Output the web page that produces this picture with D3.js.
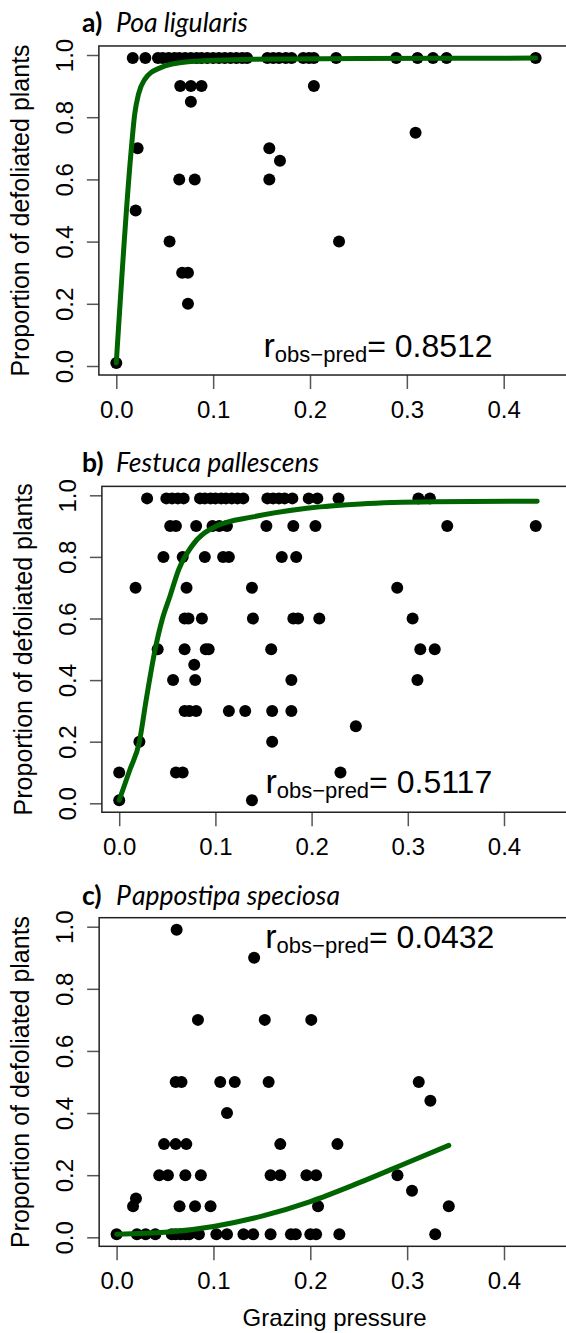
<!DOCTYPE html>
<html>
<head>
<meta charset="utf-8">
<script src="https://cdn.jsdelivr.net/npm/d3@7"></script>
<style>
  body { margin: 0; background: #fff; }
  svg { display: block; background: #fff; }
</style>
</head>
<body>
<div id="chart"></div>
<script>
// tick values and labels
var xTicks = [0, 0.1, 0.2, 0.3, 0.4];
var yTicks = [0, 0.2, 0.4, 0.6, 0.8, 1.0];
var panelLetters = ["a)", "b)", "c)"];
var speciesNames = ["Poa ligularis", "Festuca pallescens", "Pappostipa speciosa"];
var rValues = ["0.8512", "0.5117", "0.0432"];
var yTitle = "Proportion of defoliated plants";
var xTitle = "Grazing pressure";

// a) Poa ligularis - [grazing pressure, proportion defoliated]
var poaPoints = [
  [0.017, 0.99], [0.030, 0.99], [0.043, 0.99], [0.048, 0.99], [0.054, 0.99], [0.060, 0.99],
  [0.065, 0.99], [0.071, 0.99], [0.077, 0.99], [0.083, 0.99], [0.088, 0.99], [0.094, 0.99],
  [0.100, 0.99], [0.106, 0.99], [0.112, 0.99], [0.118, 0.99], [0.124, 0.99], [0.130, 0.99],
  [0.135, 0.99], [0.156, 0.99], [0.162, 0.99], [0.168, 0.99], [0.175, 0.99], [0.181, 0.99],
  [0.193, 0.99], [0.199, 0.99], [0.204, 0.99], [0.227, 0.99], [0.289, 0.99], [0.311, 0.99],
  [0.327, 0.99], [0.341, 0.99], [0.433, 0.99],
  [0.066, 0.90], [0.077, 0.90], [0.088, 0.90], [0.204, 0.90],
  [0.077, 0.85], [0.309, 0.75],
  [0.022, 0.70], [0.158, 0.70], [0.169, 0.66],
  [0.065, 0.60], [0.081, 0.60], [0.158, 0.60],
  [0.020, 0.50], [0.055, 0.40], [0.230, 0.40],
  [0.068, 0.30], [0.074, 0.30], [0.074, 0.20],
  [0.000, 0.01]
];
var poaFit = [
  [0, 0.01], [0.015, 0.68], [0.019, 0.81], [0.023, 0.875], [0.029, 0.92], [0.044, 0.957],
  [0.074, 0.978], [0.141, 0.986], [0.25, 0.989], [0.433, 0.99]
];

// b) Festuca pallescens
var festPoints = [
  [0.029, 0.99], [0.049, 0.99], [0.055, 0.99], [0.061, 0.99], [0.067, 0.99], [0.084, 0.99],
  [0.089, 0.99], [0.095, 0.99], [0.100, 0.99], [0.106, 0.99], [0.111, 0.99], [0.117, 0.99],
  [0.123, 0.99], [0.129, 0.99], [0.154, 0.99], [0.160, 0.99], [0.166, 0.99], [0.172, 0.99],
  [0.180, 0.99], [0.197, 0.99], [0.206, 0.99], [0.228, 0.99], [0.311, 0.99], [0.323, 0.99],
  [0.053, 0.90], [0.059, 0.90], [0.080, 0.90], [0.097, 0.90], [0.104, 0.90], [0.112, 0.90],
  [0.153, 0.90], [0.181, 0.90], [0.204, 0.90], [0.341, 0.90], [0.433, 0.90],
  [0.046, 0.80], [0.066, 0.80], [0.089, 0.80], [0.108, 0.80], [0.114, 0.80], [0.169, 0.80],
  [0.184, 0.80],
  [0.017, 0.70], [0.070, 0.70], [0.138, 0.70], [0.289, 0.70],
  [0.068, 0.60], [0.072, 0.60], [0.086, 0.60], [0.139, 0.60], [0.181, 0.60], [0.186, 0.60],
  [0.208, 0.60], [0.305, 0.60],
  [0.040, 0.50], [0.068, 0.50], [0.090, 0.50], [0.093, 0.50], [0.158, 0.50], [0.313, 0.50],
  [0.328, 0.50],
  [0.078, 0.45],
  [0.056, 0.40], [0.079, 0.40], [0.179, 0.40], [0.310, 0.40],
  [0.068, 0.30], [0.073, 0.30], [0.080, 0.30], [0.114, 0.30], [0.131, 0.30], [0.159, 0.30],
  [0.179, 0.30],
  [0.246, 0.25], [0.021, 0.20], [0.159, 0.20],
  [0.000, 0.10], [0.059, 0.10], [0.066, 0.10], [0.230, 0.10],
  [0.000, 0.01], [0.138, 0.01]
];
var festFit = [
  [0, 0.01], [0.011, 0.108], [0.021, 0.20], [0.028, 0.335], [0.0374, 0.50], [0.045, 0.60],
  [0.0525, 0.67], [0.062, 0.76], [0.075, 0.833], [0.101, 0.90], [0.139, 0.93],
  [0.195, 0.958], [0.251, 0.972], [0.326, 0.979], [0.4345, 0.981]
];

// c) Pappostipa speciosa
var papPoints = [
  [0.062, 0.99], [0.142, 0.90],
  [0.084, 0.70], [0.153, 0.70], [0.201, 0.70],
  [0.061, 0.50], [0.067, 0.50], [0.107, 0.50], [0.122, 0.50], [0.157, 0.50], [0.312, 0.50],
  [0.324, 0.44], [0.114, 0.40],
  [0.049, 0.30], [0.061, 0.30], [0.072, 0.30], [0.169, 0.30], [0.228, 0.30],
  [0.044, 0.20], [0.053, 0.20], [0.071, 0.20], [0.087, 0.20], [0.159, 0.20], [0.169, 0.20],
  [0.196, 0.20], [0.206, 0.20], [0.290, 0.20],
  [0.305, 0.15], [0.020, 0.125],
  [0.017, 0.10], [0.065, 0.10], [0.081, 0.10], [0.097, 0.10], [0.208, 0.10], [0.343, 0.10],
  [0.000, 0.01], [0.021, 0.01], [0.030, 0.01], [0.040, 0.01], [0.057, 0.01], [0.061, 0.01],
  [0.066, 0.01], [0.071, 0.01], [0.075, 0.01], [0.085, 0.01], [0.103, 0.01], [0.114, 0.01],
  [0.131, 0.01], [0.141, 0.01], [0.159, 0.01], [0.180, 0.01], [0.185, 0.01], [0.200, 0.01],
  [0.206, 0.01], [0.230, 0.01], [0.329, 0.01]
];
var papFit = [
  [0, 0.01], [0.05, 0.016], [0.10, 0.035], [0.15, 0.068], [0.20, 0.115], [0.25, 0.175],
  [0.30, 0.24], [0.343, 0.296]
];

var allPoints = [poaPoints, festPoints, papPoints];
var allFits = [poaFit, festFit, papFit];

// plot limits in data units (R style padding)
var xLim = [-0.018, 0.468];
var yLim = [-0.029, 1.029];

// pixel placement of each panel (pixel of x=0, x=0.4, y=0, y=1), title baseline, r label spot
var layout = [
  {x0: 116.3, x4: 503.7, y0: 366, y1: 55, titleY: 32, rAt: [0.152, 0.03]},
  {x0: 119.2, x4: 504, y0: 803.3, y1: 495.3, titleY: 472, rAt: [0.152, 0.032]},
  {x0: 116.6, x4: 504, y0: 1237.3, y1: 926.7, titleY: 905, rAt: [0.1535, 0.93]}
];

var axisFont = "'Liberation Sans', Arial, sans-serif";
var titleFont = "Lato, 'Open Sans', sans-serif";
var green = "#006400";

var svg = d3.select("#chart")
  .append("svg")
  .attr("width", 566)
  .attr("height", 1333);

layout.forEach(function (p, i) {
  var x = d3.scaleLinear().domain([0, 0.4]).range([p.x0, p.x4]);
  var y = d3.scaleLinear().domain([0, 1]).range([p.y0, p.y1]);
  var boxLeft = x(xLim[0]), boxRight = x(xLim[1]);
  var boxTop = y(yLim[1]), boxBottom = y(yLim[0]);

  var g = svg.append("g");

  // y axis with labels turned parallel to axis
  g.append("g")
    .attr("transform", "translate(" + boxLeft + ",0)")
    .call(d3.axisLeft(y).tickValues(yTicks).tickFormat(d3.format(".1f")).tickSize(12).tickSizeOuter(0))
    .attr("font-family", axisFont)
    .attr("font-size", 24)
    .call(function (a) { a.select(".domain").remove(); })
    .call(function (a) {
      a.selectAll(".tick line").attr("stroke", "#555").attr("stroke-width", 1.5);
      a.selectAll(".tick text")
        .attr("transform", "rotate(-90)")
        .attr("x", 0).attr("y", -26).attr("dy", 0)
        .attr("text-anchor", "middle")
        .attr("fill", "#000");
    });

  // x axis
  g.append("g")
    .attr("transform", "translate(0," + boxBottom + ")")
    .call(d3.axisBottom(x).tickValues(xTicks).tickFormat(d3.format(".1f")).tickSize(14).tickSizeOuter(0))
    .attr("font-family", axisFont)
    .attr("font-size", 24)
    .call(function (a) { a.select(".domain").remove(); })
    .call(function (a) {
      a.selectAll(".tick line").attr("stroke", "#555").attr("stroke-width", 1.5);
      a.selectAll(".tick text").attr("y", 43).attr("dy", 0).attr("fill", "#000");
    });

  // plot box
  g.append("rect")
    .attr("x", boxLeft)
    .attr("y", boxTop)
    .attr("width", boxRight - boxLeft)
    .attr("height", boxBottom - boxTop)
    .attr("fill", "none")
    .attr("stroke", "#222")
    .attr("stroke-width", 1.5);

  // observations
  g.append("g")
    .selectAll("circle")
    .data(allPoints[i])
    .join("circle")
    .attr("cx", function (d) { return x(d[0]); })
    .attr("cy", function (d) { return y(d[1]); })
    .attr("r", 6)
    .attr("fill", "#000");

  // fitted curve
  var line = d3.line()
    .x(function (d) { return x(d[0]); })
    .y(function (d) { return y(d[1]); })
    .curve(d3.curveMonotoneX);
  g.append("path")
    .datum(allFits[i])
    .attr("d", line)
    .attr("fill", "none")
    .attr("stroke", green)
    .attr("stroke-width", 5)
    .attr("stroke-linecap", "round");

  // r obs-pred label
  var rt = g.append("text")
    .attr("x", x(p.rAt[0]))
    .attr("y", y(p.rAt[1]))
    .attr("font-family", axisFont)
    .attr("font-size", 32)
    .attr("fill", "#000");
  rt.append("tspan").attr("font-size", 34).text("r");
  rt.append("tspan").attr("font-size", 22).attr("dy", 5).text("obs\u2212pred");
  rt.append("tspan").attr("dy", -5).text("= " + rValues[i]);

  // panel title, the c) name has a loose gap after its first letter in the original
  var tt = svg.append("text")
    .attr("y", p.titleY)
    .attr("font-family", titleFont)
    .attr("font-size", 26.5)
    .attr("fill", "#000");
  tt.append("tspan").attr("x", 82).attr("font-weight", "bold").text(panelLetters[i]);
  var name = speciesNames[i];
  if (i === 2) {
    tt.append("tspan").attr("x", 116).attr("font-style", "italic").text(name.charAt(0));
    tt.append("tspan").attr("dx", 2).attr("font-style", "italic").text(name.slice(1));
  } else {
    tt.append("tspan").attr("x", 116).attr("font-style", "italic").text(name);
  }

  // y axis title
  svg.append("text")
    .attr("transform", "translate(" + (boxLeft - 70) + "," + y(0.5) + ") rotate(-90)")
    .attr("text-anchor", "middle")
    .attr("font-family", axisFont)
    .attr("font-size", 25)
    .attr("fill", "#000")
    .text(yTitle);

  // x title only under the last panel
  if (i === layout.length - 1) {
    svg.append("text")
      .attr("x", (boxLeft + boxRight) / 2)
      .attr("y", boxBottom + 80)
      .attr("text-anchor", "middle")
      .attr("font-family", axisFont)
      .attr("font-size", 24)
      .attr("fill", "#000")
      .text(xTitle);
  }
});
</script>
</body>
</html>
